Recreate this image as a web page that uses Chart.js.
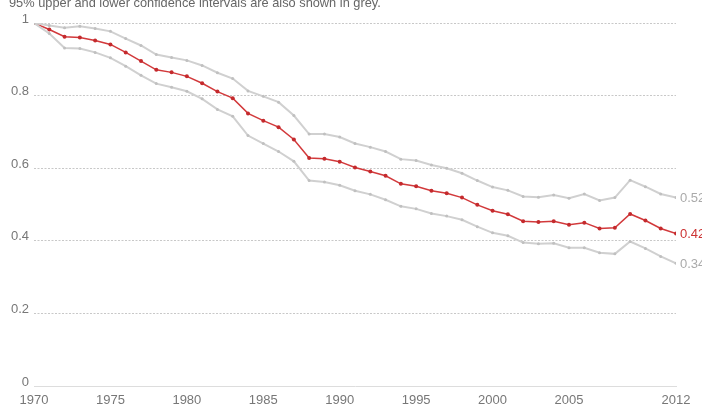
<!DOCTYPE html>
<html>
<head>
<meta charset="utf-8">
<title>Confidence intervals</title>
<script src="https://cdn.jsdelivr.net/npm/chart.js@4.4.1/dist/chart.umd.min.js"></script>
<style>
    body { margin: 0; background: #fff; }
    #wrap { width: 702px; height: 405px; position: relative; }
</style>
</head>
<body>
<div id="wrap">
    <canvas id="myChart" width="702" height="405"></canvas>
</div>
<script>
var subtitle = "95% upper and lower confidence intervals are also shown in grey.";

var years = [1970, 1971, 1972, 1973, 1974, 1975, 1976, 1977, 1978, 1979,
             1980, 1981, 1982, 1983, 1984, 1985, 1986, 1987, 1988, 1989,
             1990, 1991, 1992, 1993, 1994, 1995, 1996, 1997, 1998, 1999,
             2000, 2001, 2002, 2003, 2004, 2005, 2006, 2007, 2008, 2009,
             2010, 2011, 2012];

var central = [1.0, 0.982, 0.962, 0.960, 0.952, 0.941, 0.919, 0.895, 0.871, 0.864,
               0.853, 0.834, 0.811, 0.793, 0.751, 0.731, 0.713, 0.679, 0.628, 0.626,
               0.618, 0.602, 0.591, 0.579, 0.557, 0.550, 0.538, 0.531, 0.519, 0.499,
               0.483, 0.473, 0.454, 0.452, 0.454, 0.444, 0.450, 0.434, 0.436, 0.474,
               0.456, 0.434, 0.420];

var upper = [1.0, 0.993, 0.987, 0.991, 0.985, 0.977, 0.957, 0.938, 0.913, 0.905,
             0.897, 0.883, 0.863, 0.847, 0.813, 0.798, 0.782, 0.745, 0.694, 0.694,
             0.686, 0.668, 0.658, 0.646, 0.625, 0.621, 0.609, 0.600, 0.586, 0.566,
             0.548, 0.539, 0.522, 0.520, 0.526, 0.517, 0.529, 0.511, 0.519, 0.567,
             0.549, 0.529, 0.519];

var lower = [1.0, 0.971, 0.931, 0.930, 0.919, 0.904, 0.881, 0.856, 0.833, 0.823,
             0.812, 0.791, 0.762, 0.743, 0.690, 0.668, 0.646, 0.619, 0.566, 0.562,
             0.553, 0.538, 0.528, 0.513, 0.495, 0.488, 0.475, 0.468, 0.458, 0.439,
             0.422, 0.414, 0.395, 0.392, 0.393, 0.381, 0.381, 0.367, 0.364, 0.398,
             0.379, 0.357, 0.338];

var endLabels = ["0.52", "0.34", "0.42"];   // upper, lower, central
var xTicks = [1970, 1975, 1980, 1985, 1990, 1995, 2000, 2005, 2012];
var yTicks = [0, 0.2, 0.4, 0.6, 0.8, 1];

var FONT = "'Liberation Sans', Arial, sans-serif";

function toPoints(vals) {
    return years.map(function (y, i) { return { x: y, y: vals[i] }; });
}

// subtitle text at the very top (cut off in the original)
var subtitlePlugin = {
    id: 'subtitleText',
    afterDraw: function (chart) {
        var c = chart.ctx;
        c.save();
        c.font = "12.8px " + FONT;
        c.fillStyle = "#666";
        c.textBaseline = "alphabetic";
        c.textAlign = "left";
        c.fillText(subtitle, 9, 7);
        c.restore();
    }
};

// value labels at the right end of each line
var endLabelPlugin = {
    id: 'endLabels',
    afterDatasetsDraw: function (chart) {
        var c = chart.ctx;
        c.save();
        c.font = "13px " + FONT;
        c.textBaseline = "middle";
        c.textAlign = "left";
        chart.data.datasets.forEach(function (ds, i) {
            var meta = chart.getDatasetMeta(i);
            var last = meta.data[meta.data.length - 1];
            c.fillStyle = ds.labelColor;
            c.fillText(endLabels[i], last.x + 4, last.y + 1);
        });
        c.restore();
    }
};

var ctx = document.getElementById('myChart').getContext('2d');
var chart = new Chart(ctx, {
    type: 'line',
    data: {
        datasets: [{
            label: "Upper",
            data: toPoints(upper),
            borderColor: '#d0d0d0',
            backgroundColor: '#c0c0c0',
            borderWidth: 2,
            pointRadius: 1.5,
            pointBorderWidth: 0,
            labelColor: '#aaaaaa',
            tension: 0
        },
        {
            label: "Lower",
            data: toPoints(lower),
            borderColor: '#d0d0d0',
            backgroundColor: '#c0c0c0',
            borderWidth: 2,
            pointRadius: 1.5,
            pointBorderWidth: 0,
            labelColor: '#aaaaaa',
            tension: 0
        },
        {
            label: "Central",
            data: toPoints(central),
            borderColor: '#d2393b',
            backgroundColor: '#c42a2d',
            borderWidth: 1.5,
            pointRadius: 2,
            pointBorderWidth: 0,
            labelColor: '#cc3333',
            tension: 0
        }]
    },
    options: {
        responsive: false,
        animation: false,
        layout: { padding: { top: 23, right: 26, left: 0, bottom: 0 } },
        plugins: {
            legend: { display: false },
            tooltip: { enabled: false }
        },
        scales: {
            x: {
                type: 'linear',
                min: 1970,
                max: 2012,
                afterBuildTicks: function (scale) {
                    scale.ticks = xTicks.map(function (v) { return { value: v }; });
                },
                afterFit: function (scale) { scale.height = 19; },
                grid: { display: false, drawTicks: false },
                border: { display: true, color: '#dddddd', width: 1 },
                ticks: {
                    padding: 7,
                    maxRotation: 0,
                    autoSkip: false,
                    color: '#777',
                    font: { family: FONT, size: 13 },
                    callback: function (v) { return String(v); }
                }
            },
            y: {
                min: 0,
                max: 1,
                afterBuildTicks: function (scale) {
                    scale.ticks = yTicks.map(function (v) { return { value: v }; });
                },
                afterFit: function (scale) { scale.width = 34; },
                grid: {
                    drawTicks: false,
                    color: function (c) {
                        return c.tick && c.tick.value === 0 ? 'rgba(0,0,0,0)' : '#c8c8c8';
                    },
                    lineWidth: 1
                },
                border: { display: false, dash: [2, 1.5] },
                ticks: {
                    padding: 5,
                    labelOffset: -4,
                    color: '#777',
                    font: { family: FONT, size: 13 },
                    callback: function (v) { return String(Math.round(v * 10) / 10); }
                }
            }
        }
    },
    plugins: [subtitlePlugin, endLabelPlugin]
});
</script>
</body>
</html>
